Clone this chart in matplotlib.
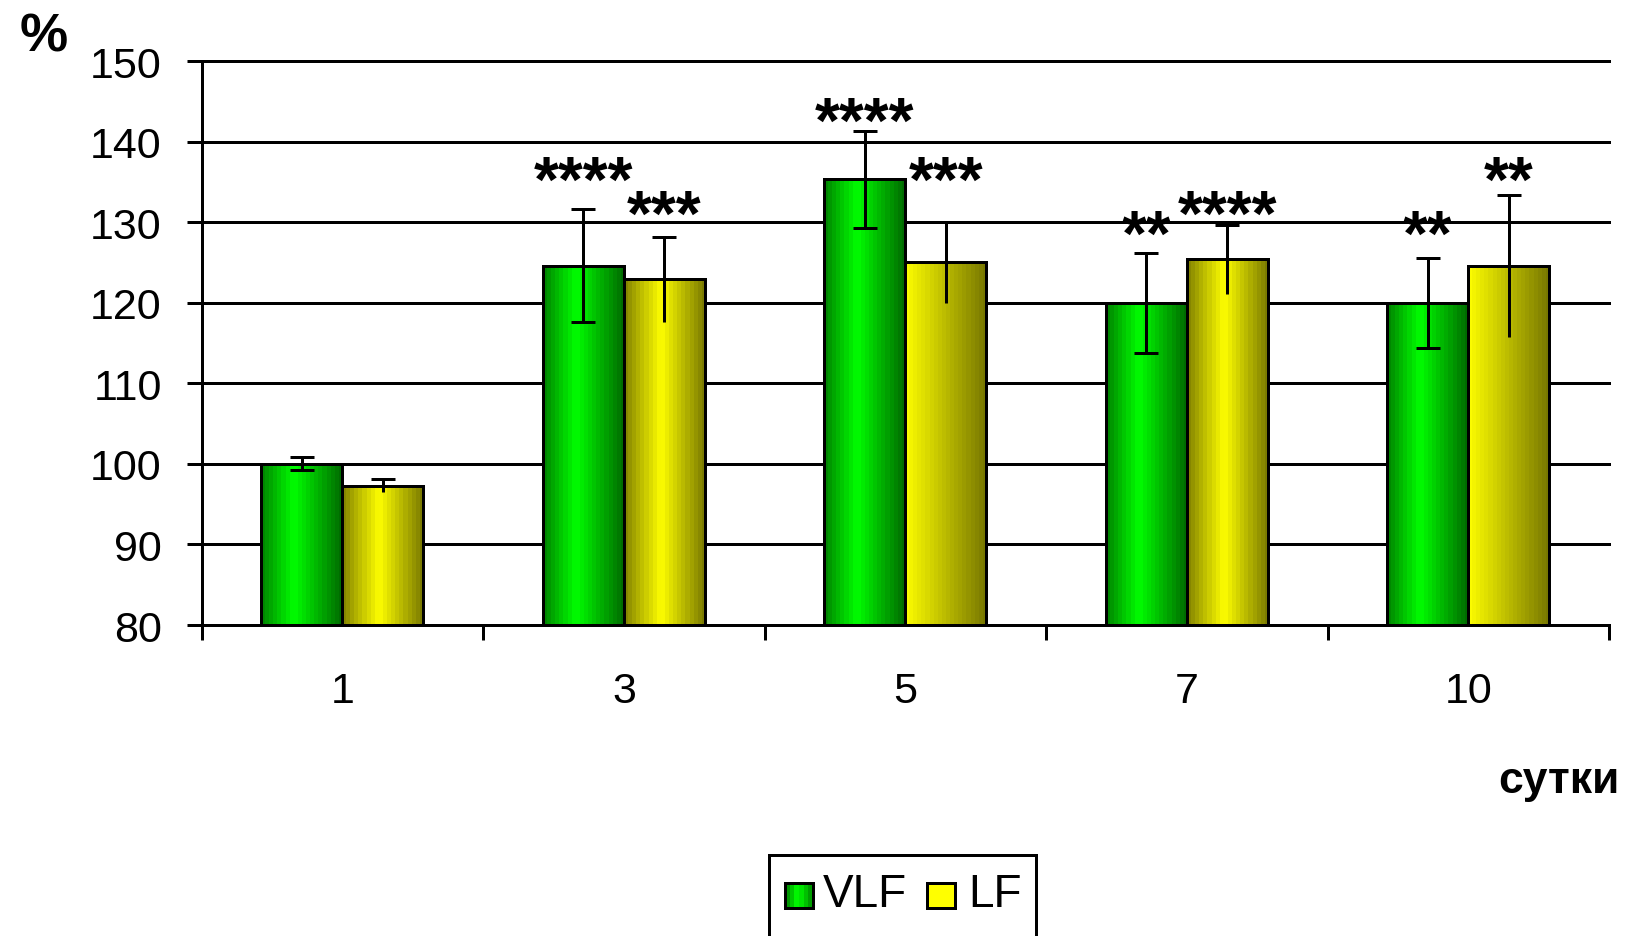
import numpy as np
import matplotlib
matplotlib.use('Agg')
import matplotlib.pyplot as plt
from matplotlib import font_manager
from matplotlib.patches import Rectangle

# ---- data -------------------------------------------------------------
days = ['1', '3', '5', '7', '10']
vlf = [100.0, 124.6, 135.3, 120.0, 120.0]
vlf_err = [0.8, 7.0, 6.0, 6.2, 5.6]
lf = [97.3, 122.9, 125.0, 125.4, 124.6]
lf_err = [0.8, 5.3, 5.0, 4.3, 8.8]
vlf_stars = ['', '****', '****', '**', '**']
lf_stars = ['', '***', '***', '****', '**']
vlf_star_y = [None, 136.2, 143.6, 129.6, 129.6]
lf_star_y = [None, 132.0, 136.2, 132.0, 136.2]
y_ticks = [80, 90, 100, 110, 120, 130, 140, 150]

# ---- fonts --------------------------------------------------------------
installed = {f.name for f in font_manager.fontManager.ttflist}
NARROW = 'Liberation Sans Narrow' if 'Liberation Sans Narrow' in installed else 'Liberation Sans'
REG = 'Liberation Sans'
plt.rcParams['font.family'] = [REG, 'DejaVu Sans']
TICK_FS = 34 if NARROW != REG else 31

W, H = 1627, 937
DPI = 100
PX = 72.0 / DPI          # points per pixel
LW = 3 * PX              # 3 px line width


def fx(x):
    return x / W


def fy(y):
    return 1 - y / H


fig = plt.figure(figsize=(W / DPI, H / DPI), dpi=DPI)
ax = fig.add_axes([fx(201.7), fy(626), fx(1609) - fx(201.7), fy(62) - fy(626)])

n = len(days)
centers = np.arange(n) + 0.5
bw = 0.288

ax.set_xlim(0, n)
ax.set_ylim(80, 150)

# horizontal grid
for t in y_ticks[1:]:
    ax.axhline(t, color='black', lw=LW, zorder=1, clip_on=False)


def banded(left_dark, bright, right_dark, peak, nb=20):
    cols = []
    for i in range(nb):
        t = (i + 0.5) / nb
        if peak > 0 and t < peak:
            s = t / peak
            c = np.array(left_dark) + (np.array(bright) - np.array(left_dark)) * s
        else:
            s = (1 - t) / (1 - peak)
            c = np.array(right_dark) + (np.array(bright) - np.array(right_dark)) * s
        cols.append(c)
    return np.array(cols)[np.newaxis, :, :]


green_grad = banded((0, 0.50, 0), (0, 1, 0), (0, 0.40, 0), 0.40)
yellow_peaks = [0.45, 0.45, 0.0, 0.45, 0.0]

for i in range(n):
    x_v = centers[i] - bw / 2
    x_l = centers[i] + bw / 2
    # VLF bar
    ax.imshow(green_grad, extent=(x_v - bw / 2, x_v + bw / 2, 80, vlf[i]),
              aspect='auto', interpolation='nearest', zorder=2)
    # LF bar
    ygrad = banded((0.50, 0.50, 0), (1, 1, 0), (0.46, 0.46, 0), yellow_peaks[i])
    ax.imshow(ygrad, extent=(x_l - bw / 2, x_l + bw / 2, 80, lf[i]),
              aspect='auto', interpolation='nearest', zorder=2)

ax.bar(centers - bw / 2, vlf, width=bw, facecolor='none', edgecolor='black',
       linewidth=LW, zorder=3)
ax.bar(centers + bw / 2, lf, width=bw, facecolor='none', edgecolor='black',
       linewidth=LW, zorder=3)
ax.set_xlim(0, n)
ax.set_ylim(80, 150)

# error bars: VLF capped at both ends, LF capped on top only
ax.errorbar(centers - bw / 2, vlf, yerr=vlf_err, fmt='none', ecolor='black',
            elinewidth=LW, capsize=12 * PX, capthick=LW, zorder=4)
ax.errorbar(centers + bw / 2, lf, yerr=lf_err, fmt='none', ecolor='black',
            elinewidth=LW, capsize=0, zorder=4)
ax.plot(centers + bw / 2, np.array(lf) + np.array(lf_err), linestyle='none',
        marker='_', markersize=24 * PX, markeredgewidth=LW, color='black', zorder=4)

# significance marks
for i in range(n):
    for x, s, y in ((centers[i] - bw / 2, vlf_stars[i], vlf_star_y[i]),
                    (centers[i] + bw / 2, lf_stars[i], lf_star_y[i])):
        if s:
            ax.annotate(s, xy=(x, y), xytext=(0, -29 * PX), textcoords='offset points',
                        ha='center', va='baseline', fontsize=46, fontweight='bold',
                        family=REG, zorder=5, annotation_clip=False)

# axes styling
for side in ('top', 'right'):
    ax.spines[side].set_visible(False)
for side in ('left', 'bottom'):
    ax.spines[side].set_linewidth(LW)
    ax.spines[side].set_color('black')
    ax.spines[side].set_zorder(6)

ax.set_yticks(y_ticks)
ax.set_yticklabels([str(t) for t in y_ticks], family=NARROW, fontsize=TICK_FS)
ax.tick_params(axis='y', length=15 * PX, width=LW, pad=25 * PX, direction='out')

ax.set_xticks(np.arange(n + 1))
ax.set_xticklabels([])
ax.set_xticks(centers, minor=True)
ax.set_xticklabels(days, minor=True, family=NARROW, fontsize=TICK_FS)
ax.tick_params(axis='x', which='major', length=15 * PX, width=LW, direction='out')
ax.tick_params(axis='x', which='minor', length=0, pad=46 * PX)

# axis titles
fig.text(fx(44), fy(37), '%', ha='center', va='center', fontsize=39,
         fontweight='bold', family=REG)
fig.text(fx(1620), fy(793), 'сутки', ha='right', va='baseline', fontsize=32,
         fontweight='bold', family=[NARROW, 'DejaVu Sans'])

# legend
fig.add_artist(Rectangle((fx(769.3), fy(960)), fx(1036) - fx(769.3), fy(855.7) - fy(960),
                         fill=False, edgecolor='black', linewidth=LW,
                         transform=fig.transFigure, clip_on=False))
sw = fig.add_axes([fx(785), fy(909), fx(813) - fx(785), fy(884) - fy(909)])
sw.imshow(banded((0, 0.50, 0), (0, 1, 0), (0, 0.55, 0), 0.45, nb=6),
          aspect='auto', interpolation='nearest')
sw.set_xticks([])
sw.set_yticks([])
for s in sw.spines.values():
    s.set_linewidth(LW)
fig.add_artist(Rectangle((fx(926.7), fy(909)), fx(955) - fx(926.7), fy(884) - fy(909),
                         facecolor='#ffff00', edgecolor='black', linewidth=LW,
                         transform=fig.transFigure))
fig.text(fx(823), fy(906.7), 'VLF', ha='left', va='baseline', fontsize=33, family=REG)
fig.text(fx(968), fy(906.7), 'LF', ha='left', va='baseline', fontsize=33, family=REG)

fig.savefig('out.png', dpi=DPI, facecolor='white')
